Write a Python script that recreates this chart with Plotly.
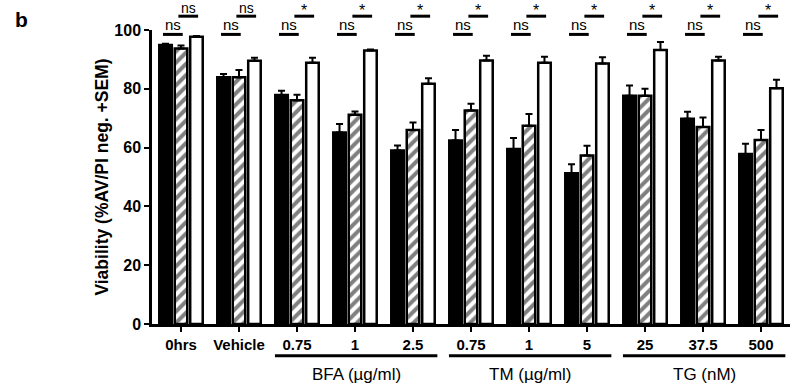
import plotly.graph_objects as go

# ---- data ----
tick_labels = ["0hrs", "Vehicle", "0.75", "1", "2.5", "0.75", "1", "5", "25", "37.5", "500"]
black_vals = [94.9, 83.9, 77.9, 65.1, 59.0, 62.4, 59.5, 51.3, 77.6, 69.8, 57.8]
black_err = [0.4, 1.1, 1.4, 2.9, 1.7, 3.6, 3.8, 3.0, 3.5, 2.4, 3.5]
hatched_vals = [93.7, 83.9, 76.1, 71.2, 66.0, 72.6, 67.4, 57.3, 77.6, 67.0, 62.6]
hatched_err = [1.0, 2.5, 1.9, 1.1, 2.5, 2.3, 4.0, 3.3, 2.4, 3.2, 3.4]
white_vals = [97.7, 89.5, 88.9, 93.0, 81.7, 89.6, 88.9, 88.6, 93.2, 89.6, 80.2]
white_err = [0.3, 1.1, 1.7, 0.4, 1.9, 1.6, 2.0, 2.1, 2.7, 1.3, 2.9]
sig_lower = ["ns"] * 11
sig_upper = ["ns", "ns", "*", "*", "*", "*", "*", "*", "*", "*", "*"]
group_names = ["BFA (µg/ml)", "TM (µg/ml)", "TG (nM)"]
group_start = [2, 5, 8]
group_end = [4, 7, 10]

FONT = "Arial, Liberation Sans, Helvetica, sans-serif"
x = list(range(len(tick_labels)))
zeros = [0] * len(x)

def err(arr):
    return dict(type="data", array=arr, arrayminus=zeros, symmetric=False,
                color="black", thickness=2, width=3.5)

fig = go.Figure()
fig.add_trace(go.Bar(x=x, y=black_vals, error_y=err(black_err),
                     marker=dict(color="black", line=dict(color="black", width=2.5))))
fig.add_trace(go.Bar(x=x, y=hatched_vals, error_y=err(hatched_err),
                     marker=dict(color="white",
                                 pattern=dict(shape="/", fgcolor="black", bgcolor="white",
                                              size=8, solidity=0.5),
                                 line=dict(color="black", width=2.5))))
fig.add_trace(go.Bar(x=x, y=white_vals, error_y=err(white_err),
                     marker=dict(color="white", line=dict(color="black", width=2.5))))

shapes = []
annotations = []
# significance markers
for i in x:
    # lower: black vs hatched
    shapes.append(dict(type="line", xref="x", yref="paper", x0=i - 0.31, x1=i + 0.03,
                       y0=0.985, y1=0.985, line=dict(color="black", width=3)))
    annotations.append(dict(x=i - 0.14, y=0.985, xref="x", yref="paper", text=sig_lower[i],
                            showarrow=False, yanchor="bottom", yshift=-1,
                            font=dict(family=FONT, size=15, color="black")))
    # upper: hatched vs white
    shapes.append(dict(type="line", xref="x", yref="paper", x0=i - 0.045, x1=i + 0.295,
                       y0=1.047, y1=1.047, line=dict(color="black", width=3)))
    is_star = sig_upper[i] == "*"
    annotations.append(dict(x=i + 0.125, y=1.047, xref="x", yref="paper", text=sig_upper[i],
                            showarrow=False, yanchor="bottom", yshift=-5 if is_star else -2,
                            font=dict(family=FONT, size=16 if is_star else 14, color="black")))

# group underlines and labels
for name, s, e in zip(group_names, group_start, group_end):
    shapes.append(dict(type="line", xref="x", yref="paper", x0=s - 0.38, x1=e + 0.42,
                       y0=-0.108, y1=-0.108, line=dict(color="black", width=3)))
    annotations.append(dict(x=(s + e) / 2 + 0.02, y=-0.173, xref="x", yref="paper", text=name,
                            showarrow=False, yanchor="middle",
                            font=dict(family=FONT, size=17, color="black")))

# y-axis title
annotations.append(dict(x=-0.079, y=0.5, xref="paper", yref="paper",
                        text="Viability (%AV/PI neg. +SEM)", textangle=-90,
                        showarrow=False, xanchor="center", yanchor="middle",
                        font=dict(family=FONT, size=17.5, color="black", weight="bold")))
# panel label
annotations.append(dict(x=-0.205, y=1.035, xref="paper", yref="paper", text="b",
                        showarrow=False, xanchor="center", yanchor="middle",
                        font=dict(family=FONT, size=21, color="black", weight="bold")))

fig.update_layout(
    width=790, height=384,
    margin=dict(l=152, r=0, t=30, b=60),
    paper_bgcolor="white", plot_bgcolor="white",
    barmode="group", bargap=0.2, bargroupgap=0.19,
    showlegend=False,
    shapes=shapes, annotations=annotations,
    font=dict(family=FONT, color="black"),
    xaxis=dict(range=[-0.5, 10.5], tickvals=x, ticktext=tick_labels,
               showline=True, linecolor="black", linewidth=2.5,
               ticks="outside", ticklen=5, tickwidth=2, tickcolor="black",
               showgrid=False, zeroline=False,
               tickfont=dict(family=FONT, size=15, color="black", weight="bold")),
    yaxis=dict(range=[0, 100], tickvals=[0, 20, 40, 60, 80, 100],
               showline=True, linecolor="black", linewidth=2.5,
               ticks="outside", ticklen=5, tickwidth=2, tickcolor="black",
               showgrid=False, zeroline=False,
               tickfont=dict(family=FONT, size=16, color="black", weight="bold")),
)

fig.write_html("out.html", config={"displayModeBar": False},
               post_script="document.body.style.margin='0';")
